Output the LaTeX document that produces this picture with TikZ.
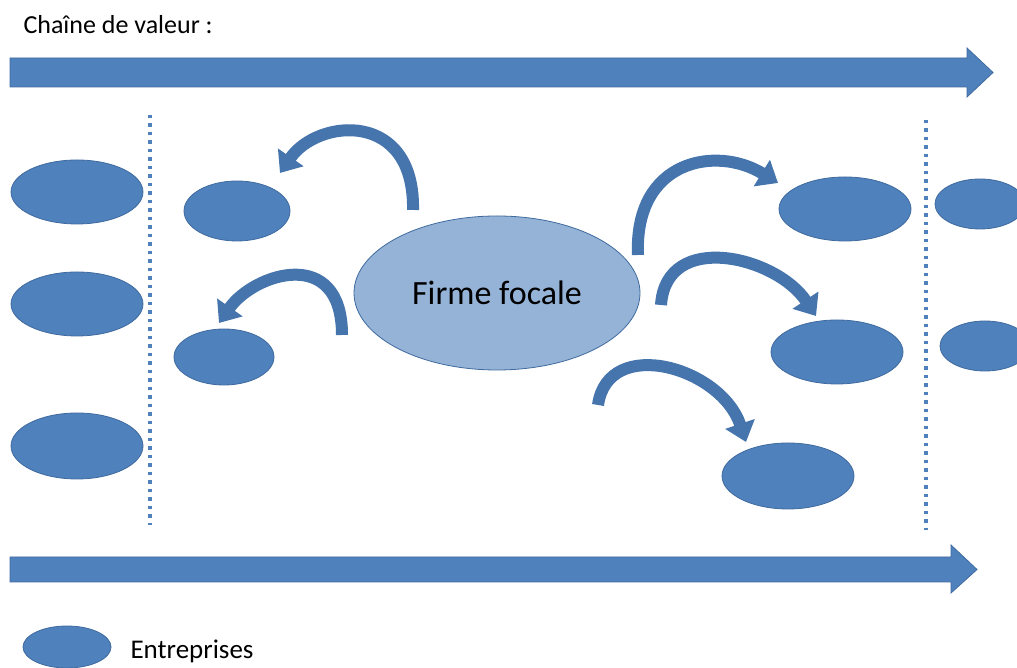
\documentclass[tikz,border=0pt]{standalone}
\usepackage{fontspec}
\setmainfont{Carlito}
\usepackage{xcolor}
\usetikzlibrary{shapes.geometric, arrows.meta}

\definecolor{entblue}{HTML}{4F81BD}
\definecolor{entline}{HTML}{3F6A9E}
\definecolor{focalblue}{HTML}{95B3D7}
\definecolor{arrowblue}{HTML}{4674AC}

\begin{document}
\begin{tikzpicture}[x=1pt, y=1pt,
        ent/.style={ellipse, fill=entblue, draw=entline, line width=0.8pt,
        inner sep=0pt, minimum width=132pt, minimum height=64pt},
        focal/.style={ellipse, fill=focalblue, draw=entline, line width=0.8pt,
        inner sep=0pt, minimum width=286pt, minimum height=154pt,
        font=\fontsize{34}{40}\selectfont},
        curvy/.style={line width=12pt, draw=arrowblue,
        -{Triangle[width=30pt, length=19pt]}},
        border/.style={draw=entblue, line width=3.5pt,
        dash pattern=on 3.5pt off 5pt},
        chain/.style={fill=entblue, draw=entline, line width=0.8pt}]
        \useasboundingbox (0,0) rectangle (1017,668);

        \node[anchor=base west, font=\fontsize{26}{30}\selectfont] (title) at (20,634) {Chaîne de valeur :};

        % value chain arrows
        \filldraw[chain] (10,581) -- (967,581) -- (967,571) -- (993,595.5)
            -- (967,620) -- (967,610) -- (10,610) -- cycle;
        \filldraw[chain] (10,86) -- (951,86) -- (951,75) -- (977,98.5)
            -- (951,123) -- (951,111) -- (10,111) -- cycle;

        \draw[border] (150,553) -- (150,143);
        \draw[border] (926,548) -- (926,138);

        % firms
        \node[ent] (L1) at (77,476) {};
        \node[ent] (L2) at (77,364) {};
        \node[ent, minimum height=66pt] (L3) at (77,222) {};
        \node[ent, minimum width=106pt, minimum height=60pt] (A) at (237,457) {};
        \node[ent, minimum width=100pt, minimum height=56pt] (B) at (224,311) {};
        \node[focal] (F) at (497,375) {Firme focale};
        \node[ent] (R1) at (845,459) {};
        \node[ent] (R2) at (837,316) {};
        \node[ent, minimum height=66pt] (R3) at (788,192) {};
        \node[ent, minimum width=90pt, minimum height=50pt] (E1) at (980,464) {};
        \node[ent, minimum width=90pt, minimum height=50pt] (E2) at (985,322) {};

        \coordinate (t1) at (413,458);
        \coordinate (h1) at (280,495);
        \coordinate (t2) at (342,333);
        \coordinate (h2) at (219,345);
        \coordinate (t3) at (638,413);
        \coordinate (h3) at (778,485);
        \coordinate (t4) at (661,363);
        \coordinate (h4) at (816,352);
        \coordinate (t5) at (598,263);
        \coordinate (h5) at (746,226);

        \draw[curvy] (t1) .. controls +(2,100) and +(38,55) .. (h1);
        \draw[curvy] (t2) .. controls +(0,90) and +(35,50) .. (h2);
        \draw[curvy] (t3) .. controls +(-4,95) and +(-62,38) .. (h3);
        \draw[curvy] (t4) .. controls +(5,75) and +(-40,60) .. (h4);
        \draw[curvy] (t5) .. controls +(10,70) and +(-25,75) .. (h5);

        % legend
        \node[ent, minimum width=88pt, minimum height=42pt] (key) at (67,21) {};
        \node[anchor=base west, font=\fontsize{27}{32}\selectfont] (keytext) at (127,9) {Entreprises};
    \end{tikzpicture}
\end{document}
